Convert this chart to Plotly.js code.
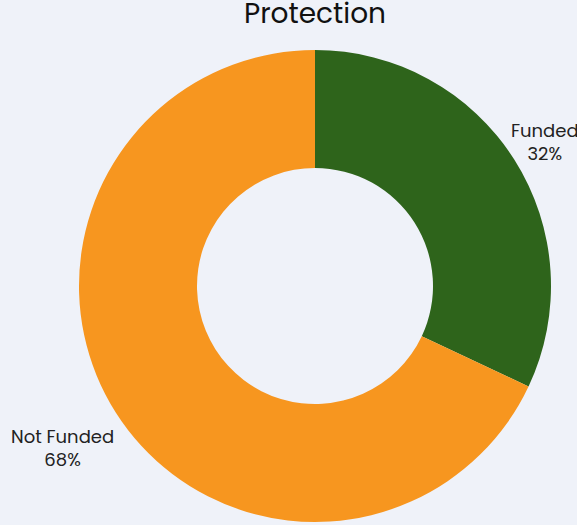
<!DOCTYPE html>
<html>
<head>
<meta charset="utf-8">
<script src="https://cdn.plot.ly/plotly-3.0.1.min.js"></script>
<style>
html,body{margin:0;padding:0;background:#eff2f9;}
#chart{width:577px;height:525px;}
</style>
</head>
<body>
<div id="chart"></div>
<script>
const categories = ["Funded", "Not Funded"];
const values = [32, 68];
const colors = ["#2e641b", "#f7961f"];
const chartTitle = "Protection";

const W = 577, H = 525, MT = 50, MB = 3;
const total = values.reduce((a, b) => a + b, 0);
const labelPos = [
  {x: 545, y: 142},
  {x: 62, y: 448}
];
const annotations = categories.map((c, i) => ({
  text: c + "<br>" + Math.round(values[i] / total * 100) + "%",
  xref: "paper", yref: "paper",
  x: labelPos[i].x / W,
  y: 1 - (labelPos[i].y - MT) / (H - MT - MB),
  xanchor: "center", yanchor: "middle", align: "center",
  showarrow: false,
  font: {family: "Poppins, Inter, sans-serif", size: 18, color: "#222"}
}));

Plotly.newPlot("chart", [{
  type: "pie",
  labels: categories,
  values: values,
  hole: 0.5,
  sort: false,
  direction: "clockwise",
  rotation: 0,
  marker: {colors: colors, line: {width: 0}},
  textinfo: "none",
  showlegend: false,
  hoverinfo: "skip",
  automargin: false,
  domain: {x: [79/W, 551/W], y: [0, 1]}
}], {
  width: W,
  height: H,
  paper_bgcolor: "#eff2f9",
  plot_bgcolor: "#eff2f9",
  margin: {l: 0, r: 0, t: MT, b: MB},
  title: {
    text: chartTitle,
    x: 315/W,
    xanchor: "center",
    y: 1 - 13/H,
    yanchor: "middle",
    font: {family: "Poppins, Inter, sans-serif", size: 28, color: "#111"}
  },
  annotations: annotations,
  showlegend: false
}, {displayModeBar: false, staticPlot: true});
</script>
</body>
</html>
